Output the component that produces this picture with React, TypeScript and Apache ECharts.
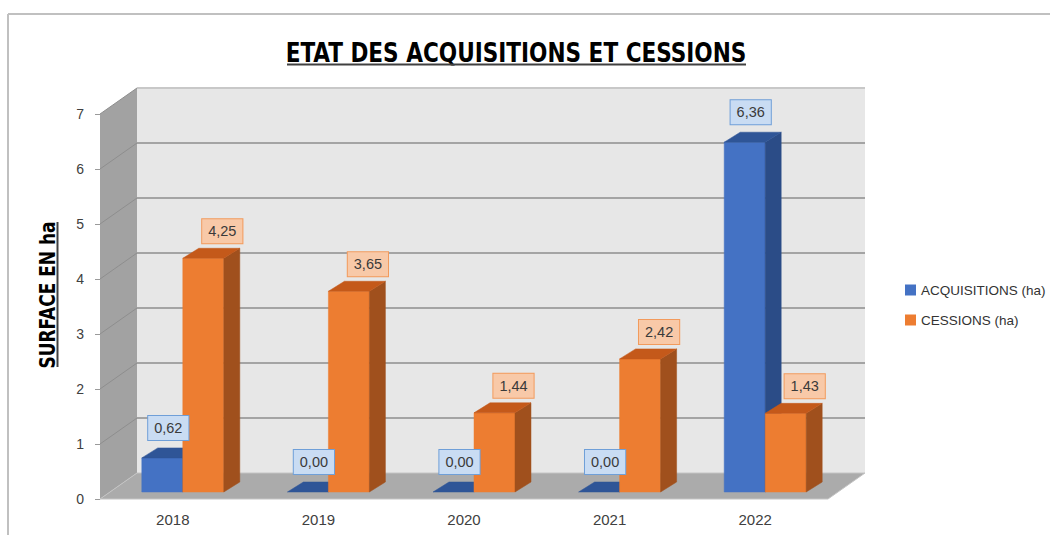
import React, { useEffect, useRef } from "react";
import * as echarts from "echarts";

// ---- data ----
const years = ["2018", "2019", "2020", "2021", "2022"];
const acquisitions = [0.62, 0.0, 0.0, 0.0, 6.36];
const cessions = [4.25, 3.65, 1.44, 2.42, 1.43];
const seriesNames = ["ACQUISITIONS (ha)", "CESSIONS (ha)"];
const yMin = 0;
const yMax = 7;
const yStep = 1;
const yGridValues = [1, 2, 3, 4, 5, 6, 7];
const chartTitle = "ETAT DES ACQUISITIONS ET CESSIONS";
const yAxisTitle = "SURFACE EN ha";

// ---- 3D look (pixels) ----
const WALL_DX = 37;
const WALL_DY = -26;
const BAR_SHIFT_X = 10;
const BAR_SHIFT_Y = -7;
const BAR_W = 41;
const BAR_DX = 16;
const BAR_DY = -10;

const BLUE = { front: "#4472c4", top: "#2f5597", side: "#2b4c87", labelBg: "#c9dcf3", labelBorder: "#6f9fd8", labelDx: 6, labelDy: -30 };
const ORANGE = { front: "#ed7d31", top: "#c4591a", side: "#a0501d", labelBg: "#f8c9a8", labelBorder: "#f29a5c", labelDx: 19, labelDy: -27 };

const fmt = (v: number) => v.toFixed(2).replace(".", ",");

const renderWalls = (params: any, api: any) => {
  const cs = params.coordSys;
  const x0 = cs.x;
  const x1 = cs.x + cs.width;
  const yOf = (v: number) => api.coord([0, v])[1];
  const y0 = yOf(yMin);
  const yT = yOf(yMax);
  const children: any[] = [];
  children.push({
    type: "polygon",
    shape: { points: [[x0, y0], [x0, yT], [x0 + WALL_DX, yT + WALL_DY], [x0 + WALL_DX, y0 + WALL_DY]] },
    style: { fill: "#a2a2a2" },
  });
  children.push({
    type: "rect",
    shape: { x: x0 + WALL_DX, y: yT + WALL_DY, width: x1 - x0, height: y0 - yT },
    style: { fill: "#e7e7e7" },
  });
  children.push({
    type: "polygon",
    shape: { points: [[x0, y0], [x1, y0], [x1 + WALL_DX, y0 + WALL_DY], [x0 + WALL_DX, y0 + WALL_DY]] },
    style: { fill: "#ababab", stroke: "#c4c4c4", lineWidth: 1 },
  });
  yGridValues.forEach((v) => {
    const y = yOf(v);
    children.push({
      type: "line",
      shape: { x1: x0 + WALL_DX, y1: y + WALL_DY, x2: x1 + WALL_DX, y2: y + WALL_DY },
      style: { stroke: v === yMax ? "#c8c8c8" : "#a4a4a4", lineWidth: 2 },
    });
    children.push({
      type: "line",
      shape: { x1: x0, y1: y, x2: x0 + WALL_DX, y2: y + WALL_DY },
      style: { stroke: "#8e8e8e", lineWidth: 1 },
    });
  });
  return { type: "group", children };
};

const makeBarRenderer = (sideSign: number, c: any) => (params: any, api: any) => {
  const idx = api.value(0);
  const v = api.value(1);
  const base = api.coord([idx, 0]);
  const topP = api.coord([idx, v]);
  const fx0 = sideSign < 0 ? base[0] + BAR_SHIFT_X - BAR_W : base[0] + BAR_SHIFT_X;
  const fx1 = fx0 + BAR_W;
  const yb = base[1] + BAR_SHIFT_Y;
  const yt = topP[1] + BAR_SHIFT_Y;
  const children: any[] = [];
  if (yb - yt > 0.5) {
    children.push({
      type: "rect",
      shape: { x: fx0, y: yt, width: BAR_W, height: yb - yt },
      style: { fill: c.front, stroke: c.front, lineWidth: 0.5 },
    });
    children.push({
      type: "polygon",
      shape: { points: [[fx1, yb], [fx1, yt], [fx1 + BAR_DX, yt + BAR_DY], [fx1 + BAR_DX, yb + BAR_DY]] },
      style: { fill: c.side, stroke: c.side, lineWidth: 0.5 },
    });
  }
  children.push({
    type: "polygon",
    shape: { points: [[fx0, yt], [fx1, yt], [fx1 + BAR_DX, yt + BAR_DY], [fx0 + BAR_DX, yt + BAR_DY]] },
    style: { fill: c.top, stroke: c.top, lineWidth: 0.5 },
  });
  children.push({
    type: "text",
    z2: 100,
    x: (fx0 + fx1) / 2 + c.labelDx,
    y: yt + c.labelDy,
    style: {
      text: fmt(v),
      font: '14.5px "Liberation Sans", Arial, sans-serif',
      fill: "#3a3a3a",
      align: "center",
      verticalAlign: "middle",
      backgroundColor: c.labelBg,
      borderColor: c.labelBorder,
      borderWidth: 1,
      padding: [5, 6, 4, 6],
    },
  });
  return { type: "group", children };
};

export default function App() {
  const ref = useRef<HTMLDivElement>(null);

  useEffect(() => {
    if (!ref.current) return;
    const chart = echarts.init(ref.current, null, { renderer: "svg" });
    const option: any = {
      animation: false,
      backgroundColor: "#ffffff",
      grid: { left: 100, right: 222, top: 114, bottom: 36 },
      xAxis: {
        type: "category",
        data: years,
        axisLine: { show: false },
        axisTick: { show: false },
        axisLabel: { margin: 13, fontSize: 15, color: "#404040", fontFamily: '"Liberation Sans", Arial, sans-serif' },
      },
      yAxis: {
        type: "value",
        min: yMin,
        max: yMax,
        interval: yStep,
        axisLine: { show: false },
        axisTick: { show: true, length: 5, lineStyle: { color: "#9a9a9a" } },
        splitLine: { show: false },
        axisLabel: { margin: 16, fontSize: 14, color: "#404040", fontFamily: '"Liberation Sans", Arial, sans-serif' },
      },
      legend: {
        data: seriesNames,
        orient: "vertical",
        left: 900,
        top: 278,
        icon: "rect",
        itemWidth: 11,
        itemHeight: 11,
        itemGap: 16,
        textStyle: { fontSize: 13.5, color: "#333333", fontFamily: '"Liberation Sans", Arial, sans-serif' },
      },
      graphic: [
        { type: "line", shape: { x1: 8, y1: 14, x2: 1050, y2: 14 }, style: { stroke: "#c0c0c0", lineWidth: 2 } },
        { type: "line", shape: { x1: 8, y1: 14, x2: 8, y2: 535 }, style: { stroke: "#c0c0c0", lineWidth: 2 } },
        {
          type: "text",
          x: 516,
          y: 52,
          scaleX: 0.89,
          style: {
            text: chartTitle,
            font: 'bold 27px "Liberation Sans Narrow", "DejaVu Sans Condensed", sans-serif',
            fill: "#000000",
            align: "center",
            verticalAlign: "middle",
          },
        },
        { type: "line", shape: { x1: 287, y1: 64.5, x2: 746, y2: 64.5 }, style: { stroke: "#404040", lineWidth: 2 } },
        {
          type: "text",
          x: 48,
          y: 295,
          rotation: Math.PI / 2,
          scaleX: 0.9,
          style: {
            text: yAxisTitle,
            font: 'bold 21px "Liberation Sans Narrow", "DejaVu Sans Condensed", sans-serif',
            fill: "#000000",
            align: "center",
            verticalAlign: "middle",
          },
        },
        { type: "line", shape: { x1: 57.5, y1: 222, x2: 57.5, y2: 367 }, style: { stroke: "#404040", lineWidth: 2 } },
      ],
      series: [
        {
          type: "custom",
          name: "walls",
          silent: true,
          z: 1,
          clip: false,
          renderItem: renderWalls,
          data: [[0, 0]],
          encode: { x: 0, y: 1 },
        },
        {
          type: "custom",
          name: seriesNames[0],
          z: 2,
          clip: false,
          itemStyle: { color: BLUE.front },
          renderItem: makeBarRenderer(-1, BLUE),
          data: acquisitions.map((v, i) => [i, v]),
          encode: { x: 0, y: 1 },
        },
        {
          type: "custom",
          name: seriesNames[1],
          z: 2,
          clip: false,
          itemStyle: { color: ORANGE.front },
          renderItem: makeBarRenderer(1, ORANGE),
          data: cessions.map((v, i) => [i, v]),
          encode: { x: 0, y: 1 },
        },
      ],
    };
    chart.setOption(option);
    return () => chart.dispose();
  }, []);

  return <div ref={ref} style={{ position: "fixed", left: 0, top: 0, width: 1050, height: 535 }} />;
}
